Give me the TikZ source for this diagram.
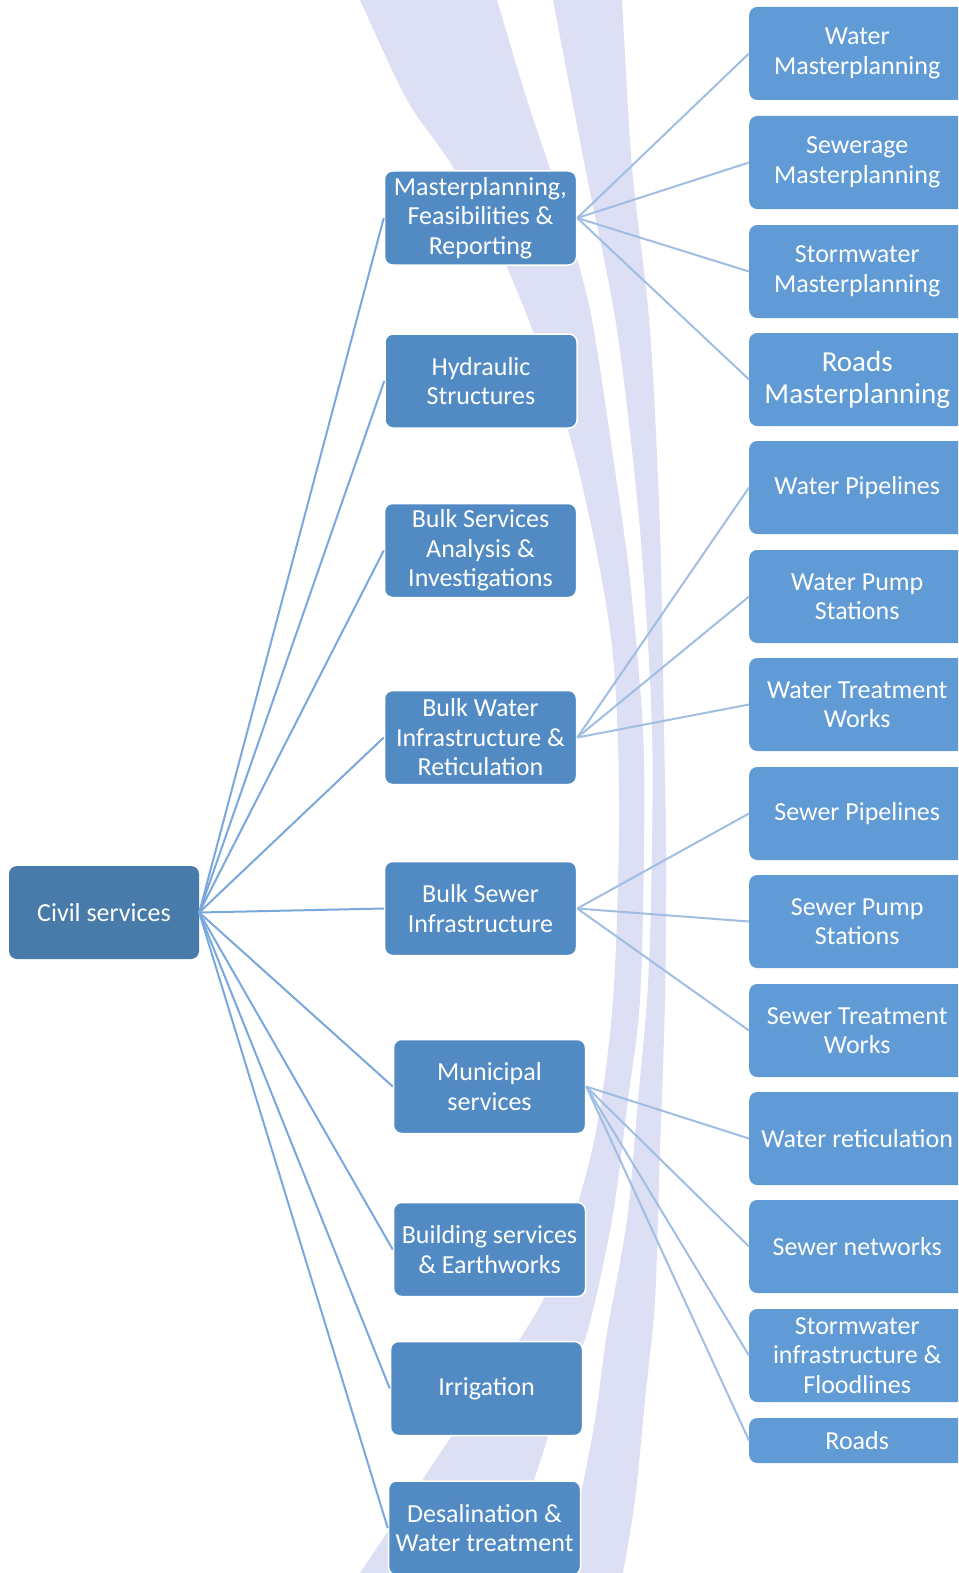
\documentclass[tikz,border=0pt]{standalone}
\usepackage{fontspec}
\setmainfont{Carlito}
\usetikzlibrary{positioning}
\definecolor{bandfill}{RGB}{221,223,244}
\definecolor{rootblue}{RGB}{72,123,169}
\definecolor{midblue}{RGB}{82,139,195}
\definecolor{leafblue}{RGB}{96,155,213}
\definecolor{linkblue}{RGB}{122,168,220}
\definecolor{sublinkblue}{RGB}{160,190,226}
\tikzset{
  box/.style     = {rounded corners=8pt, text=white, align=center, inner sep=2pt,
                    font=\fontsize{26}{29.5}\selectfont},
  root/.style    = {box, fill=rootblue, minimum width=190pt, minimum height=93pt},
  branch/.style  = {box, fill=midblue, draw=white, line width=1.5pt,
                    minimum width=192pt, minimum height=94pt},
  leaf/.style    = {box, fill=leafblue, anchor=west, minimum width=216pt, minimum height=93pt},
  link/.style    = {draw=linkblue, line width=2pt},
  sublink/.style = {draw=sublinkblue, line width=2pt}
}

\begin{document}
\begin{tikzpicture}[x=1pt, y=-1pt]
  \useasboundingbox (0,0) rectangle (958,1573);
  \clip (0,0) rectangle (958,1573);

  % background bands
  \fill[bandfill] plot[smooth] coordinates {(351,-20) (360,0) (407,100) (453,167) (507,267)
      (570,437) (610,630) (619,800) (613,1000) (592,1150) (543,1300) (447,1443) (360,1573) (346,1593)}
    -- plot[smooth] coordinates {(494,1593) (500,1573) (533,1483) (560,1400) (587,1333)
      (612,1220) (628,1100) (640,1000) (644,850) (643,730) (630,580) (612,450) (590,310)
      (560,200) (527,100) (497,0) (491,-20)} -- cycle;
  \fill[bandfill] plot[smooth] coordinates {(549,-20) (553,0) (585,167) (617,330) (640,530)
      (652,730) (651,900) (647,1000) (638,1100) (627,1220) (607,1333) (595,1420) (580,1500)
      (568,1573) (565,1593)}
    -- plot[smooth] coordinates {(620,1593) (623,1573) (635,1500) (645,1400) (655,1300)
      (660,1150) (665,1000) (666,850) (664,730) (660,530) (650,330) (632,167) (622,0) (621,-20)}
    -- cycle;

  % root
  \node[root] (civil) at (104,912.5) {Civil services};

  % second level
  \node[branch] (mp)  at (480.5,218)   {Masterplanning,\\Feasibilities \&\\Reporting};
  \node[branch] (hyd) at (481,381)     {Hydraulic\\Structures};
  \node[branch] (bsa) at (480.5,550.5) {Bulk Services\\Analysis \&\\Investigations};
  \node[branch] (bwi) at (480.5,737.5) {Bulk Water\\Infrastructure \&\\Reticulation};
  \node[branch] (bsi) at (480.5,908.5) {Bulk Sewer\\Infrastructure};
  \node[branch] (mun) at (489.5,1086.5) {Municipal\\services};
  \node[branch] (bld) at (489.5,1249.5) {Building services\\\& Earthworks};
  \node[branch] (irr) at (486.5,1388.5) {Irrigation};
  \node[branch] (des) at (484.5,1528)  {Desalination \&\\Water treatment};

  % third level
  \node[leaf] (wmp)  at (749,53.5)   {Water\\Masterplanning};
  \node[leaf] (smp)  at (749,162.5)  {Sewerage\\Masterplanning};
  \node[leaf] (swmp) at (749,271.5)  {Stormwater\\Masterplanning};
  \node[leaf, font=\fontsize{29}{32}\selectfont] (rmp) at (749,379.5) {Roads\\Masterplanning};
  \node[leaf] (wpl)  at (749,487.5)  {Water Pipelines};
  \node[leaf] (wps)  at (749,596.5)  {Water Pump\\Stations};
  \node[leaf] (wtw)  at (749,704.5)  {Water Treatment\\Works};
  \node[leaf] (spl)  at (749,813.5)  {Sewer Pipelines};
  \node[leaf] (sps)  at (749,921.5)  {Sewer Pump\\Stations};
  \node[leaf] (stw)  at (749,1030.5) {Sewer Treatment\\Works};
  \node[leaf] (wret) at (749,1138.5) {Water reticulation};
  \node[leaf] (snet) at (749,1246.5) {Sewer networks};
  \node[leaf] (swi)  at (749,1355.5) {Stormwater\\infrastructure \&\\Floodlines};
  \node[leaf, minimum height=45pt] (rds) at (749,1440.5) {Roads};

  % root links
  \draw[link] (civil.east) -- (mp.west);
  \draw[link] (civil.east) -- (hyd.west);
  \draw[link] (civil.east) -- (bsa.west);
  \draw[link] (civil.east) -- (bwi.west);
  \draw[link] (civil.east) -- (bsi.west);
  \draw[link] (civil.east) -- (mun.west);
  \draw[link] (civil.east) -- (bld.west);
  \draw[link] (civil.east) -- (irr.west);
  \draw[link] (civil.east) -- (des.west);

  % second level links
  \draw[sublink] (mp.east) -- (wmp.west);
  \draw[sublink] (mp.east) -- (smp.west);
  \draw[sublink] (mp.east) -- (swmp.west);
  \draw[sublink] (mp.east) -- (rmp.west);
  \draw[sublink] (bwi.east) -- (wpl.west);
  \draw[sublink] (bwi.east) -- (wps.west);
  \draw[sublink] (bwi.east) -- (wtw.west);
  \draw[sublink] (bsi.east) -- (spl.west);
  \draw[sublink] (bsi.east) -- (sps.west);
  \draw[sublink] (bsi.east) -- (stw.west);
  \draw[sublink] (mun.east) -- (wret.west);
  \draw[sublink] (mun.east) -- (snet.west);
  \draw[sublink] (mun.east) -- (swi.west);
  \draw[sublink] (mun.east) -- (rds.west);
\end{tikzpicture}
\end{document}
